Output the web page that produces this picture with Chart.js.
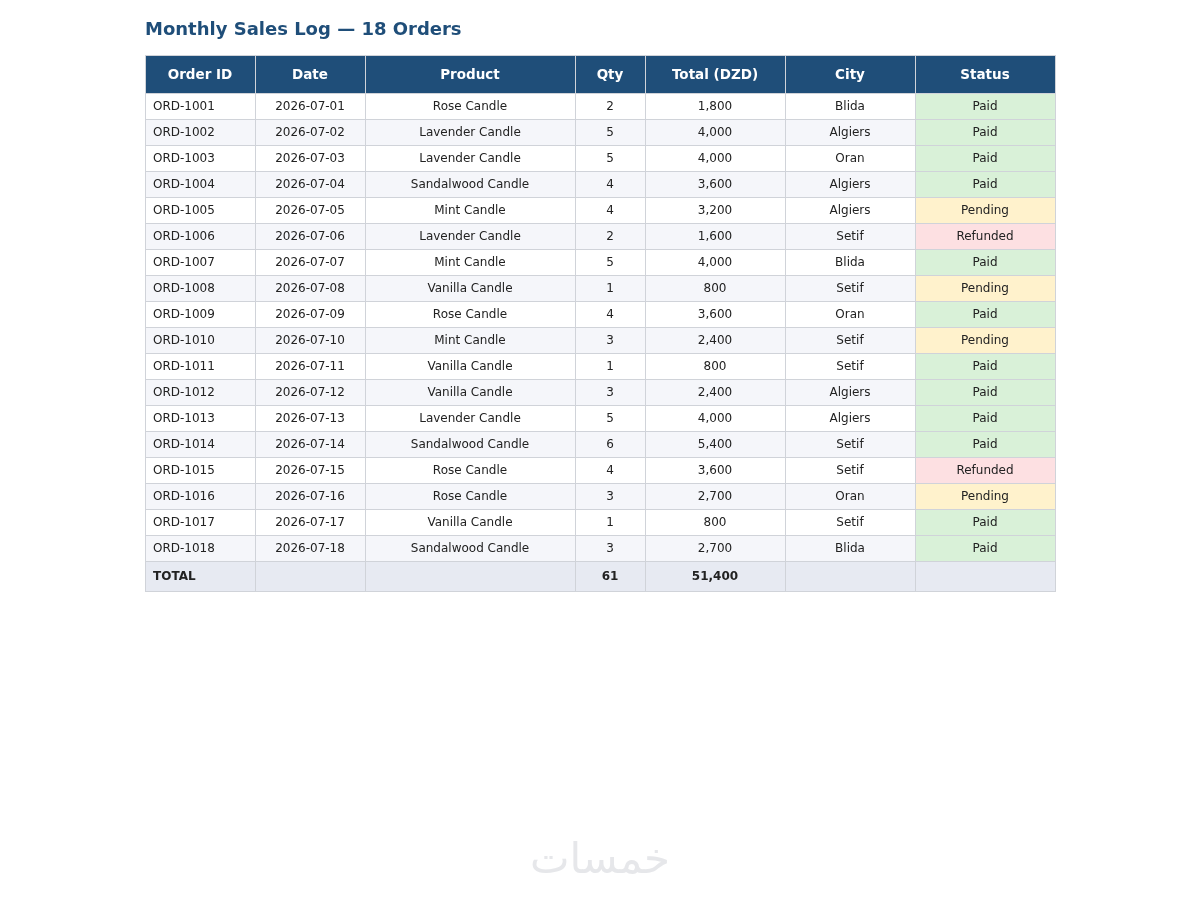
<!DOCTYPE html>
<html>
<head>
<meta charset="utf-8">
<script src="https://cdn.jsdelivr.net/npm/chart.js@4.4.1/dist/chart.umd.min.js"></script>
<style>
  html, body { margin: 0; padding: 0; background: #fff; }
  canvas { display: block; }
</style>
</head>
<body>
<canvas id="salesTable" width="1200" height="900"></canvas>
<script>
// table data
const headers = ['Order ID', 'Date', 'Product', 'Qty', 'Total (DZD)', 'City', 'Status'];
const orderIds = ['ORD-1001', 'ORD-1002', 'ORD-1003', 'ORD-1004', 'ORD-1005', 'ORD-1006', 'ORD-1007', 'ORD-1008', 'ORD-1009',
                  'ORD-1010', 'ORD-1011', 'ORD-1012', 'ORD-1013', 'ORD-1014', 'ORD-1015', 'ORD-1016', 'ORD-1017', 'ORD-1018'];
const dates = ['2026-07-01', '2026-07-02', '2026-07-03', '2026-07-04', '2026-07-05', '2026-07-06', '2026-07-07', '2026-07-08', '2026-07-09',
               '2026-07-10', '2026-07-11', '2026-07-12', '2026-07-13', '2026-07-14', '2026-07-15', '2026-07-16', '2026-07-17', '2026-07-18'];
const products = ['Rose Candle', 'Lavender Candle', 'Lavender Candle', 'Sandalwood Candle', 'Mint Candle', 'Lavender Candle',
                  'Mint Candle', 'Vanilla Candle', 'Rose Candle', 'Mint Candle', 'Vanilla Candle', 'Vanilla Candle',
                  'Lavender Candle', 'Sandalwood Candle', 'Rose Candle', 'Rose Candle', 'Vanilla Candle', 'Sandalwood Candle'];
const quantities = [2, 5, 5, 4, 4, 2, 5, 1, 4, 3, 1, 3, 5, 6, 4, 3, 1, 3];
const totals = [1800, 4000, 4000, 3600, 3200, 1600, 4000, 800, 3600, 2400, 800, 2400, 4000, 5400, 3600, 2700, 800, 2700];
const cities = ['Blida', 'Algiers', 'Oran', 'Algiers', 'Algiers', 'Setif', 'Blida', 'Setif', 'Oran',
                'Setif', 'Setif', 'Algiers', 'Algiers', 'Setif', 'Setif', 'Oran', 'Setif', 'Blida'];
const statuses = ['Paid', 'Paid', 'Paid', 'Paid', 'Pending', 'Refunded', 'Paid', 'Pending', 'Paid',
                  'Pending', 'Paid', 'Paid', 'Paid', 'Paid', 'Refunded', 'Pending', 'Paid', 'Paid'];

// layout (not data)
const colWidths = [110, 110, 210, 70, 140, 130, 140];
const headerHeight = 38;
const rowHeight = 26;
const totalHeight = 30;

const statusColors = { Paid: '#d9f1d8', Pending: '#fff2cc', Refunded: '#fde0e2' };
const fmt = n => n.toLocaleString('en-US');

const colEdges = colWidths.reduce((acc, w) => { acc.push(acc[acc.length - 1] + w); return acc; }, [0]);
const nRows = orderIds.length;
const rowEdges = [0, headerHeight];
for (let i = 0; i < nRows; i++) rowEdges.push(rowEdges[rowEdges.length - 1] + rowHeight);
rowEdges.push(rowEdges[rowEdges.length - 1] + totalHeight);
const tableWidth = colEdges[colEdges.length - 1];
const tableHeight = rowEdges[rowEdges.length - 1];

const sumQty = quantities.reduce((a, b) => a + b, 0);
const sumTotal = totals.reduce((a, b) => a + b, 0);

const columns = [
    orderIds,
    dates,
    products,
    quantities.map(String),
    totals.map(fmt),
    cities,
    statuses
];
const totalRow = ['TOTAL', '', '', String(sumQty), fmt(sumTotal), '', ''];

// one dataset per column, one point per cell (header, rows, total)
const datasets = columns.map((vals, c) => {
    const texts = [headers[c], ...vals, totalRow[c]];
    return {
        label: headers[c],
        cellText: texts,
        pointRadius: 0,
        data: texts.map((_, r) => ({
            x: (colEdges[c] + colEdges[c + 1]) / 2,
            y: (rowEdges[r] + rowEdges[r + 1]) / 2
        }))
    };
});

const tablePlugin = {
    id: 'tablePlugin',
    beforeDatasetsDraw(chart) {
        const { ctx, scales: { x, y } } = chart;
        ctx.save();
        const nr = rowEdges.length - 1;
        for (let r = 0; r < nr; r++) {
            const top = y.getPixelForValue(rowEdges[r]);
            const bottom = y.getPixelForValue(rowEdges[r + 1]);
            for (let c = 0; c < colWidths.length; c++) {
                const left = x.getPixelForValue(colEdges[c]);
                const right = x.getPixelForValue(colEdges[c + 1]);
                let fill;
                if (r === 0) fill = '#1f4e79';
                else if (r === nr - 1) fill = '#e7eaf2';
                else if (c === 6) fill = statusColors[statuses[r - 1]];
                else fill = (r - 1) % 2 === 0 ? '#ffffff' : '#f5f6fa';
                ctx.fillStyle = fill;
                ctx.fillRect(left, top, right - left, bottom - top);
            }
        }
        ctx.strokeStyle = '#d0d3d9';
        ctx.lineWidth = 1;
        for (let r = 0; r < nr; r++) {
            const top = Math.round(y.getPixelForValue(rowEdges[r])) + 0.5;
            const bottom = Math.round(y.getPixelForValue(rowEdges[r + 1])) + 0.5;
            for (let c = 0; c < colWidths.length; c++) {
                const left = Math.round(x.getPixelForValue(colEdges[c])) + 0.5;
                const right = Math.round(x.getPixelForValue(colEdges[c + 1])) + 0.5;
                ctx.strokeRect(left, top, right - left, bottom - top);
            }
        }
        ctx.restore();
    },
    afterDatasetsDraw(chart) {
        const { ctx, scales: { x } } = chart;
        ctx.save();
        ctx.textBaseline = 'middle';
        const nr = rowEdges.length - 1;
        chart.data.datasets.forEach((ds, c) => {
            const meta = chart.getDatasetMeta(c);
            meta.data.forEach((pt, r) => {
                const text = ds.cellText[r];
                if (!text) return;
                if (r === 0) {
                    ctx.font = 'bold 13.5px "DejaVu Sans"';
                    ctx.fillStyle = '#ffffff';
                } else if (r === nr - 1) {
                    ctx.font = 'bold 12px "DejaVu Sans"';
                    ctx.fillStyle = '#222222';
                } else {
                    ctx.font = '12px "DejaVu Sans"';
                    ctx.fillStyle = '#222222';
                }
                if (c === 0 && r > 0) {
                    ctx.textAlign = 'left';
                    ctx.fillText(text, x.getPixelForValue(colEdges[0]) + 8, pt.y + 1);
                } else {
                    ctx.textAlign = 'center';
                    ctx.fillText(text, pt.x, pt.y + 1);
                }
            });
        });
        ctx.restore();
    },
    afterDraw(chart) {
        // faint brand watermark
        const ctx = chart.ctx;
        ctx.save();
        ctx.font = '42px "DejaVu Sans"';
        ctx.fillStyle = '#e6e7ea';
        ctx.textAlign = 'center';
        ctx.textBaseline = 'middle';
        ctx.direction = 'rtl';
        ctx.fillText('خمسات', chart.width / 2, 862);
        ctx.restore();
    }
};

const ctx = document.getElementById('salesTable').getContext('2d');
window.salesChart = new Chart(ctx, {
    type: 'scatter',
    data: { datasets: datasets },
    options: {
        responsive: false,
        devicePixelRatio: 1,
        animation: false,
        events: [],
        layout: {
            padding: { left: 145, right: 145, top: 20, bottom: 900 - 55 - tableHeight }
        },
        plugins: {
            legend: { display: false },
            tooltip: { enabled: false },
            title: {
                display: true,
                text: 'Monthly Sales Log — 18 Orders',
                align: 'start',
                color: '#1f4e79',
                font: { family: 'DejaVu Sans', size: 18, weight: 'bold' },
                padding: { top: 0, bottom: 13.4 }
            }
        },
        scales: {
            x: { type: 'linear', display: false, min: 0, max: tableWidth },
            y: { type: 'linear', display: false, min: 0, max: tableHeight, reverse: true }
        }
    },
    plugins: [tablePlugin]
});
</script>
</body>
</html>
